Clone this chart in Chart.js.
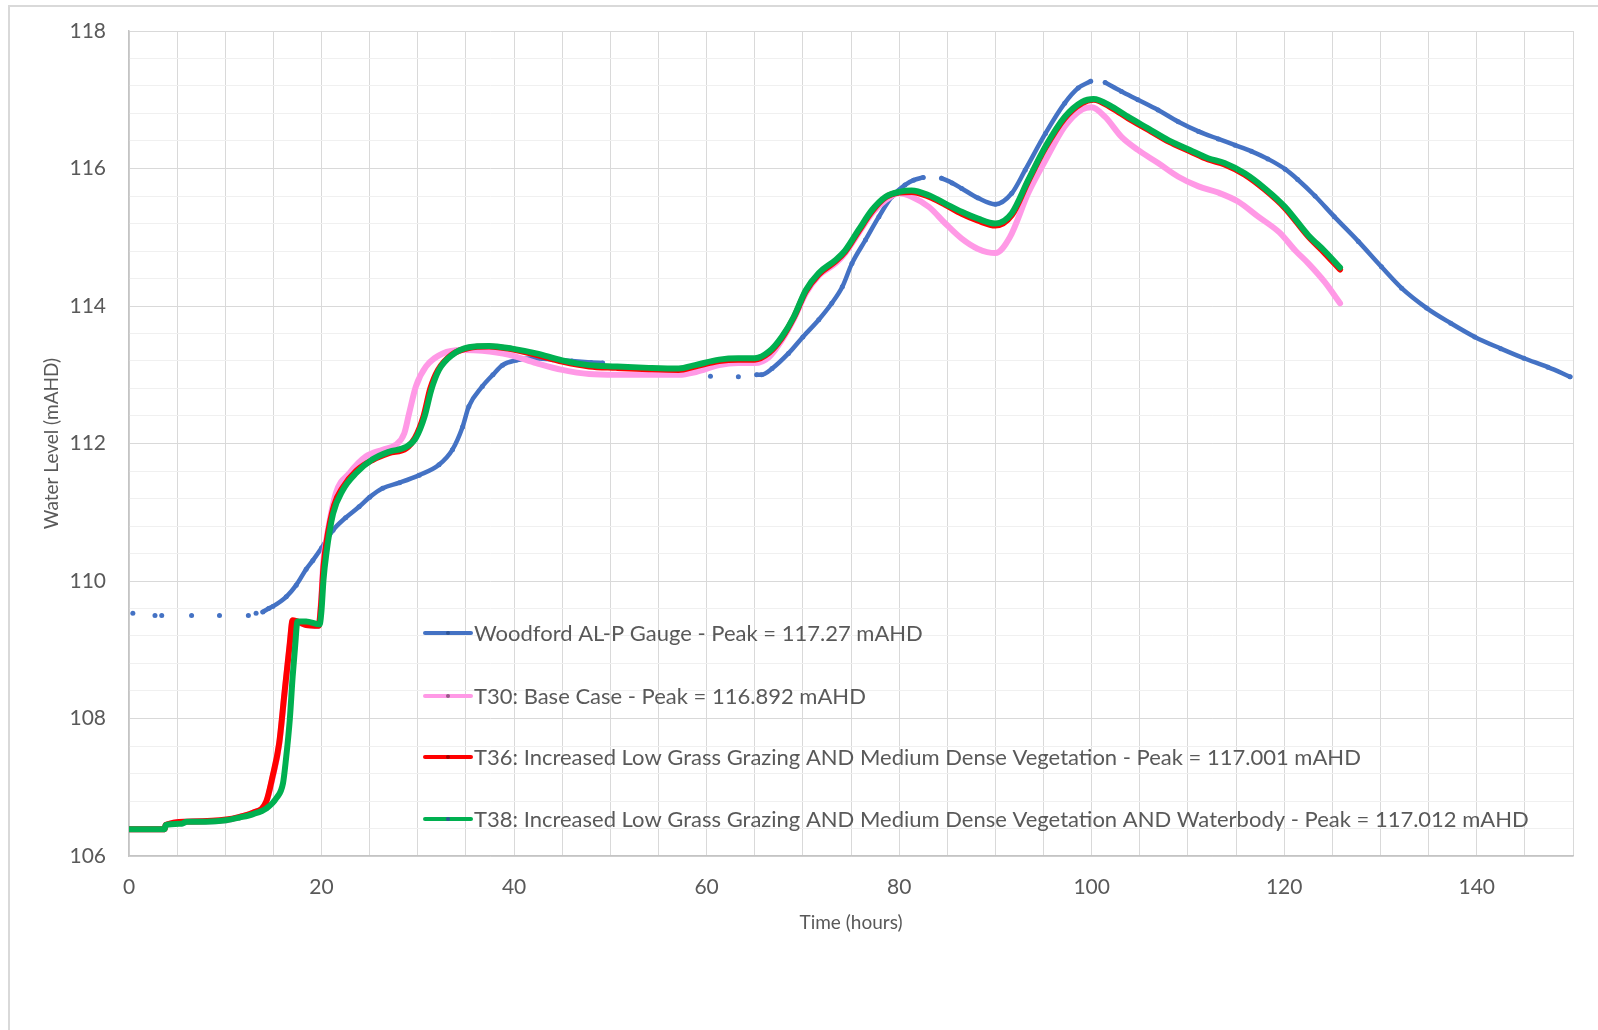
<!DOCTYPE html>
<html>
<head>
<meta charset="utf-8">
<script src="https://cdn.jsdelivr.net/npm/chart.js@4/dist/chart.umd.min.js"></script>
<style>
  html, body { margin: 0; padding: 0; background: #ffffff; }
  canvas { display: block; }
</style>
</head>
<body>
<canvas id="levels" width="1598" height="1030"></canvas>
<script>
// Woodford AL-P gauge record (null = no record, the line breaks there)
const gaugeHours = [0.4, null, 2.7, null, 3.4, null, 6.5, null, 9.4, null, 12.4, null, 13.2, null, 13.9,
  14.5, 14.94, 16.33, 17.37, 18.4, 19.1, 20.0, 21.2, 22.5, 23.9, 25.0, 26.35, 28.1, 30.15, 32.2, 33.6,
  34.65, 35.3, 36.7, 37.8, 38.8, 40.2, 42.0, 44.0, 46.0, 48.0, 49.2, null,
  60.4, null, 63.3, null, 65.2, 65.7, 66.8, 68.5, 70.0, 71.65, 73.0, 74.1, 75.1, 76.5, 77.9, 79.25,
  80.6, 81.5, 82.5, null,
  84.4, 85.5, 86.5, 88.2, 90.0, 91.7, 93.1, 95.2, 97.2, 98.6, 99.9, null,
  101.4, 103.1, 104.8, 106.9, 109.0, 111.1, 113.15, 114.9, 116.6, 118.3, 120.1, 121.4, 123.2,
  125.2, 127.7, 130.1, 132.2, 134.8, 137.3, 139.8, 142.5, 144.9, 147.4, 149.7];
const gaugeLevels = [109.53, null, 109.50, null, 109.50, null, 109.50, null, 109.50, null, 109.50, null, 109.53, null, 109.55,
  109.60, 109.63, 109.77, 109.94, 110.17, 110.30, 110.48, 110.74, 110.92, 111.08, 111.22, 111.35, 111.43, 111.54, 111.69, 111.91,
  112.24, 112.54, 112.83, 113.00, 113.14, 113.21, 113.24, 113.22, 113.20, 113.18, 113.17, null,
  112.98, null, 112.97, null, 113.00, 113.00, 113.09, 113.31, 113.55, 113.80, 114.04, 114.28, 114.62, 114.96, 115.30, 115.59,
  115.76, 115.83, 115.87, null,
  115.86, 115.79, 115.71, 115.57, 115.48, 115.64, 115.98, 116.51, 116.95, 117.17, 117.27, null,
  117.25, 117.12, 117.00, 116.85, 116.68, 116.54, 116.43, 116.34, 116.25, 116.14, 115.99, 115.84, 115.60,
  115.30, 114.94, 114.57, 114.26, 113.97, 113.75, 113.55, 113.38, 113.24, 113.11, 112.97];

// T30: Base Case
const t30Hours = [0, 3.7, 3.8, 6.0, 10.1, 11.5, 12.9, 14.25, 14.9, 15.6, 16.15, 16.7, 17.0, 18.4, 19.7, 19.95,
  20.2, 20.5, 21.5, 22.9, 24.6, 26.35, 27.7, 28.6, 29.1, 29.8, 30.85, 32.6, 34.6, 36.7, 39.5, 42.3, 45.0,
  47.8, 50.6, 54.0, 57.1, 58.9, 61.3, 63.3, 65.0, 66.5, 67.8, 69.05, 70.3, 71.65, 73.4, 74.4, 75.8, 77.2,
  78.6, 80.0, 81.3, 83.1, 84.8, 86.5, 88.2, 90.0, 91.5, 93.4, 95.2, 97.2, 99.0, 100.0, 101.4, 103.1, 104.8,
  106.9, 109.0, 111.1, 113.15, 115.2, 117.3, 119.5, 121.2, 122.5, 124.2, 125.8];
const t30Levels = [106.39, 106.39, 106.45, 106.50, 106.52, 106.57, 106.63, 106.78, 107.13, 107.62, 108.35, 109.07, 109.42, 109.36, 109.35, 109.70,
  110.30, 110.60, 111.28, 111.57, 111.81, 111.91, 111.98, 112.15, 112.44, 112.83, 113.12, 113.31, 113.36, 113.35, 113.29, 113.17, 113.07,
  113.01, 113.00, 113.00, 113.00, 113.04, 113.14, 113.17, 113.17, 113.26, 113.50, 113.81, 114.18, 114.44, 114.62, 114.77, 115.06, 115.35,
  115.54, 115.64, 115.59, 115.44, 115.20, 114.98, 114.83, 114.77, 115.00, 115.64, 116.12, 116.61, 116.86, 116.892, 116.75, 116.46, 116.27,
  116.08, 115.88, 115.74, 115.65, 115.52, 115.30, 115.07, 114.80, 114.62, 114.35, 114.04];

// T36: Increased Low Grass Grazing AND Medium Dense Vegetation
const t36Hours = [0, 3.7, 3.8, 6.0, 10.1, 11.5, 12.9, 14.25, 14.9, 15.6, 16.15, 16.7, 17.0, 18.4, 19.7, 19.95,
  20.2, 20.5, 21.3, 22.2, 23.6, 25.3, 27.0, 28.8, 29.7, 30.6, 31.3, 32.1, 33.5, 35.3, 37.4, 39.8, 42.3, 45.0,
  47.8, 50.6, 54.0, 57.1, 58.8, 61.3, 63.3, 65.0, 66.5, 67.8, 69.05, 70.3, 71.65, 73.4, 74.4, 75.8, 77.2,
  78.6, 80.0, 81.3, 83.1, 84.8, 86.5, 88.2, 90.0, 91.7, 93.4, 95.2, 97.2, 99.0, 100.2, 102.1, 103.8, 105.9,
  108.0, 110.2, 112.1, 113.8, 115.9, 118.0, 120.1, 122.5, 124.2, 125.8];
const t36Levels = [106.39, 106.39, 106.45, 106.50, 106.53, 106.57, 106.63, 106.79, 107.15, 107.64, 108.37, 109.09, 109.43, 109.36, 109.35, 109.65,
  110.20, 110.55, 111.10, 111.36, 111.60, 111.76, 111.86, 111.93, 112.08, 112.40, 112.80, 113.07, 113.29, 113.39, 113.41, 113.37, 113.29, 113.19,
  113.12, 113.10, 113.08, 113.07, 113.12, 113.20, 113.22, 113.22, 113.32, 113.53, 113.83, 114.21, 114.46, 114.65, 114.79, 115.09, 115.38,
  115.58, 115.65, 115.66, 115.59, 115.47, 115.34, 115.24, 115.17, 115.32, 115.81, 116.30, 116.73, 116.95, 117.001, 116.88, 116.73, 116.56,
  116.39, 116.25, 116.13, 116.06, 115.91, 115.69, 115.42, 115.01, 114.77, 114.53];

// T38: Increased Low Grass Grazing AND Medium Dense Vegetation AND Waterbody
const t38Hours = [0, 3.7, 3.8, 5.5, 6.0, 8.0, 10.1, 11.5, 12.9, 14.25, 15.3, 16.0, 16.3, 16.7, 17.0, 17.25, 17.5,
  18.4, 19.8, 20.0, 20.2, 20.5, 21.2, 22.2, 23.6, 25.3, 27.0, 28.8, 29.8, 30.7, 31.4, 32.2, 33.6, 35.3, 37.4,
  39.8, 42.3, 45.0, 47.8, 50.6, 54.0, 57.1, 58.8, 61.3, 63.3, 65.0, 66.5, 67.8, 69.05, 70.3, 71.65, 73.4, 74.4,
  75.8, 77.2, 78.6, 80.0, 81.3, 83.1, 84.8, 86.5, 88.2, 90.0, 91.7, 93.4, 95.2, 97.2, 99.0, 100.2, 102.1, 103.8,
  105.9, 108.0, 110.2, 112.1, 113.8, 115.9, 118.0, 120.1, 122.5, 124.2, 125.8];
const t38Levels = [106.39, 106.39, 106.45, 106.47, 106.50, 106.50, 106.52, 106.56, 106.61, 106.69, 106.84, 107.06, 107.40, 107.98, 108.61, 109.04, 109.41,
  109.41, 109.37, 109.58, 110.01, 110.40, 110.98, 111.32, 111.57, 111.77, 111.88, 111.95, 112.08, 112.39, 112.78, 113.07, 113.29, 113.40, 113.42,
  113.38, 113.31, 113.21, 113.14, 113.12, 113.10, 113.09, 113.14, 113.22, 113.24, 113.24, 113.34, 113.55, 113.84, 114.23, 114.48, 114.67, 114.81,
  115.11, 115.40, 115.59, 115.66, 115.68, 115.61, 115.49, 115.37, 115.27, 115.20, 115.35, 115.83, 116.32, 116.75, 116.97, 117.012, 116.90, 116.75,
  116.58, 116.41, 116.27, 116.15, 116.08, 115.93, 115.71, 115.44, 115.03, 114.80, 114.56];

const seriesNames = [
  'Woodford AL-P Gauge - Peak = 117.27 mAHD',
  'T30: Base Case - Peak = 116.892 mAHD',
  'T36: Increased Low Grass Grazing AND Medium Dense Vegetation - Peak = 117.001 mAHD',
  'T38: Increased Low Grass Grazing AND Medium Dense Vegetation AND Waterbody - Peak = 117.012 mAHD'
];

const yTickLabels = [106, 108, 110, 112, 114, 116, 118];
const xTickLabels = [0, 20, 40, 60, 80, 100, 120, 140];

function pairs(xs, ys) {
  return xs.map((x, i) => (x === null || ys[i] === null) ? { x: NaN, y: null } : { x: x, y: ys[i] });
}

const FONT = 'Lato, "Open Sans", "DejaVu Sans", sans-serif';
const TEXT = '#595959';

const isLabelled = (list, v) => list.some(l => Math.abs(l - v) < 1e-6);

// White page with the thin grey frame round the chart
const framePlugin = {
  id: 'frame',
  beforeDraw(chart) {
    const c = chart.ctx;
    c.save();
    c.fillStyle = '#ffffff';
    c.fillRect(0, 0, chart.width, chart.height);
    c.strokeStyle = '#d9d9d9';
    c.lineWidth = 2;
    c.strokeRect(9, 6, chart.width + 40, chart.height + 40);
    c.restore();
  }
};

// Legend drawn inside the plot, one entry per row
const insideLegend = {
  id: 'insideLegend',
  afterDatasetsDraw(chart) {
    const c = chart.ctx;
    const x0 = 425, x1 = 471, textX = 474;
    const rows = [633, 696, 757, 819];
    c.save();
    c.font = '22px ' + FONT;
    c.textBaseline = 'middle';
    c.textAlign = 'left';
    chart.data.datasets.forEach((ds, i) => {
      const y = rows[i];
      c.strokeStyle = ds.borderColor;
      c.lineWidth = 4;
      c.lineCap = 'round';
      c.beginPath();
      c.moveTo(x0, y);
      c.lineTo(x1, y);
      c.stroke();
      c.fillStyle = ds.legendDot;
      c.beginPath();
      c.arc((x0 + x1) / 2, y, 2, 0, Math.PI * 2);
      c.fill();
      c.fillStyle = TEXT;
      c.fillText(ds.label, textX, y + 1);
    });
    c.restore();
  }
};

new Chart(document.getElementById('levels'), {
  type: 'line',
  data: {
    datasets: [
      {
        label: seriesNames[0],
        data: pairs(gaugeHours, gaugeLevels),
        borderColor: '#4472C4',
        backgroundColor: '#4472C4',
        legendDot: '#2f5597',
        borderWidth: 4.5,
        pointRadius: 2.5,
        pointBorderWidth: 0,
        pointBackgroundColor: '#4472C4',
        spanGaps: false,
        cubicInterpolationMode: 'monotone',
        order: 4
      },
      {
        label: seriesNames[1],
        data: pairs(t30Hours, t30Levels),
        borderColor: '#FF99E6',
        backgroundColor: '#FF99E6',
        legendDot: '#9a5a8a',
        borderWidth: 6,
        pointRadius: 0,
        cubicInterpolationMode: 'monotone',
        order: 3
      },
      {
        label: seriesNames[2],
        data: pairs(t36Hours, t36Levels),
        borderColor: '#FF0000',
        backgroundColor: '#FF0000',
        legendDot: '#a00000',
        borderWidth: 6,
        pointRadius: 0,
        cubicInterpolationMode: 'monotone',
        order: 2
      },
      {
        label: seriesNames[3],
        data: pairs(t38Hours, t38Levels),
        borderColor: '#00B050',
        backgroundColor: '#00B050',
        legendDot: '#2f5597',
        borderWidth: 6,
        pointRadius: 0,
        cubicInterpolationMode: 'monotone',
        order: 1
      }
    ]
  },
  options: {
    responsive: false,
    animation: false,
    devicePixelRatio: 1,
    layout: { padding: { left: 0, top: 31, right: 25, bottom: 0 } },
    plugins: {
      legend: { display: false },
      tooltip: { enabled: false }
    },
    elements: { line: { borderCapStyle: 'round', borderJoinStyle: 'round' } },
    scales: {
      x: {
        type: 'linear',
        min: 0,
        max: 150,
        afterFit(s) { s.height = 174; },
        ticks: {
          stepSize: 5,
          autoSkip: false,
          maxRotation: 0,
          padding: 19,
          color: TEXT,
          font: { family: FONT, size: 21 },
          callback: v => (isLabelled(xTickLabels, v) ? String(v) : '')
        },
        grid: { color: '#d9d9d9', lineWidth: 1, drawTicks: false },
        border: { color: '#c4c4c4', width: 1.5 },
        title: {
          display: true,
          text: 'Time (hours)',
          color: TEXT,
          font: { family: FONT, size: 19 },
          padding: { top: 0, bottom: 96 }
        }
      },
      y: {
        type: 'linear',
        min: 106,
        max: 118,
        afterFit(s) { s.width = 129; s.paddingTop = 0; s.paddingBottom = 0; },
        ticks: {
          stepSize: 0.4,
          autoSkip: false,
          padding: 23,
          color: TEXT,
          font: { family: FONT, size: 21 },
          callback: v => (isLabelled(yTickLabels, v) ? String(Math.round(v)) : '')
        },
        grid: {
          drawTicks: false,
          lineWidth: 1,
          color: ctx => (ctx.tick && isLabelled(yTickLabels, ctx.tick.value) ? '#d9d9d9' : '#f0f0f0')
        },
        border: { color: '#c4c4c4', width: 1.5 },
        title: {
          display: true,
          text: 'Water Level (mAHD)',
          color: TEXT,
          font: { family: FONT, size: 19 },
          padding: { top: 40, bottom: 0 }
        }
      }
    }
  },
  plugins: [framePlugin, insideLegend]
});
</script>
</body>
</html>
